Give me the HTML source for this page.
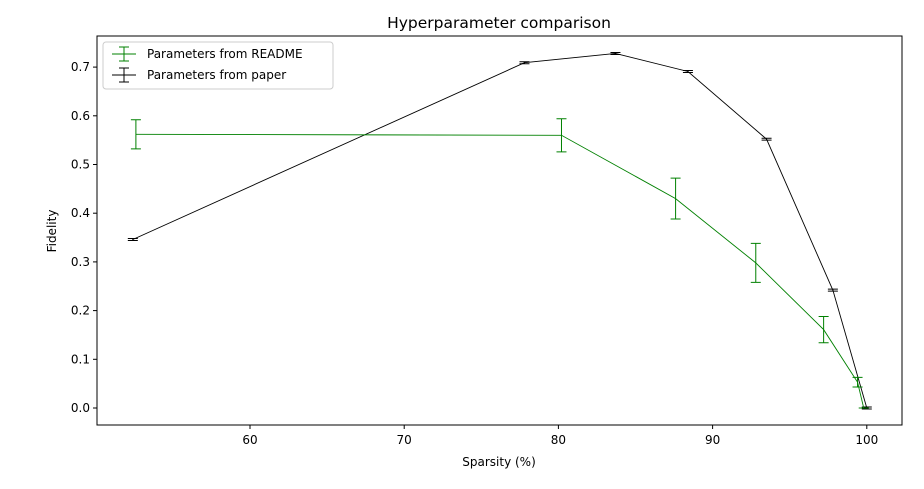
<!DOCTYPE html>
<html><head><meta charset="utf-8"><style>
body{margin:0;background:#fff;font-family:"Liberation Sans","DejaVu Sans",sans-serif}
svg text{font-family:"DejaVu Sans","Liberation Sans",sans-serif}
</style></head><body>
<svg id="chart" width="924" height="484" xmlns="http://www.w3.org/2000/svg">
<rect width="924" height="484" fill="#fff"/>
<text x="499" y="28" font-size="15.5" text-anchor="middle">Hyperparameter comparison</text>
<g id="plot"></g>
<rect x="97" y="36" width="805" height="389" fill="none" stroke="#000" stroke-width="1"/>
<text x="499" y="466" font-size="12" text-anchor="middle">Sparsity (%)</text>
<text transform="translate(56,231) rotate(-90)" font-size="12" text-anchor="middle">Fidelity</text>
<g>
<rect x="103" y="42" width="230" height="47" rx="3" fill="#fff" stroke="#ccc"/>
<g>
<line x1="112" y1="54" x2="136" y2="54" stroke="green"/><line x1="124" y1="47" x2="124" y2="61" stroke="green"/><line x1="119" y1="47" x2="129" y2="47" stroke="green"/><line x1="119" y1="61" x2="129" y2="61" stroke="green"/>
<text x="147" y="58" font-size="12">Parameters from README</text></g>
<g>
<line x1="112" y1="75" x2="136" y2="75" stroke="#000"/><line x1="124" y1="68" x2="124" y2="82" stroke="#000"/><line x1="119" y1="68" x2="129" y2="68" stroke="#000"/><line x1="119" y1="82" x2="129" y2="82" stroke="#000"/>
<text x="147" y="79" font-size="12">Parameters from paper</text></g>
</g>
</svg>
<script>
const xTicks=[60,70,80,90,100];
const yTicks=[0.0,0.1,0.2,0.3,0.4,0.5,0.6,0.7];
const readmeX=[52.6,80.2,87.6,92.8,97.2,99.4,99.8];
const readmeY=[0.562,0.560,0.430,0.298,0.161,0.053,0.0];
const readmeErr=[0.030,0.034,0.042,0.040,0.027,0.010,0.0];
const paperX=[52.4,77.8,83.7,88.4,93.5,97.8,100.0];
const paperY=[0.346,0.709,0.728,0.691,0.552,0.242,0.0];
const paperErr=[0.002,0.002,0.002,0.002,0.002,0.002,0.002];
const NS="http://www.w3.org/2000/svg";
const X=v=>250+(v-60)*15.42;
const Y=v=>408-v*487;
const g=document.getElementById('plot');
function mk(t,a){const e=document.createElementNS(NS,t);for(const k in a)e.setAttribute(k,a[k]);g.appendChild(e);return e;}
xTicks.forEach(t=>{
 const l=mk('line',{x1:X(t),x2:X(t),y1:425,y2:429,stroke:'#000'});
 
 
 const tx=mk('text',{x:X(t),y:444,'font-size':12,'text-anchor':'middle'});tx.textContent=t;
 
 
});
yTicks.forEach(t=>{
 const l=mk('line',{x1:93,x2:97,y1:Y(t),y2:Y(t),stroke:'#000'});
 
 
 const tx=mk('text',{x:90,y:Y(t)+4,'font-size':12,'text-anchor':'end'});tx.textContent=t.toFixed(1);
 
 
});
function series(xs,ys,es,col,name){
 const p=mk('polyline',{points:xs.map((x,i)=>X(x)+','+Y(ys[i])).join(' '),fill:'none',stroke:col,'stroke-width':0.9});
 
 
 xs.forEach((x,i)=>{
  const cx=X(x),t=Y(ys[i]+es[i]),b=Y(ys[i]-es[i]);
  const e=mk('path',{d:`M${cx},${t}V${b}M${cx-5},${t}H${cx+5}M${cx-5},${b}H${cx+5}`,stroke:col,fill:'none','stroke-width':1});
  
  
 });
}
series(paperX,paperY,paperErr,'#000','paper');
series(readmeX,readmeY,readmeErr,'green','readme');
</script>
</body></html>
